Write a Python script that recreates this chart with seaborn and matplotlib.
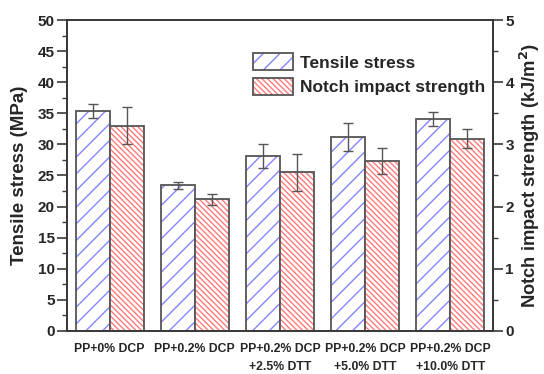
import matplotlib
matplotlib.use("Agg")
import matplotlib.pyplot as plt
from matplotlib.patches import Rectangle, Patch
from matplotlib.ticker import MultipleLocator
import seaborn as sns
import pandas as pd

# Sample names (two-line labels for the DTT blends)
samples = ["PP+0% DCP", "PP+0.2% DCP", "PP+0.2% DCP\n+2.5% DTT",
           "PP+0.2% DCP\n+5.0% DTT", "PP+0.2% DCP\n+10.0% DTT"]
series = ["Tensile stress", "Notch impact strength"]

# Tensile stress, MPa (left axis)
tensile = [35.4, 23.4, 28.1, 31.2, 34.1]
tensile_err = [1.15, 0.6, 1.9, 2.2, 1.1]

# Notched impact strength, kJ/m^2 (right axis)
impact = [3.30, 2.12, 2.55, 2.73, 3.09]
impact_err = [0.30, 0.09, 0.30, 0.21, 0.15]

sns.set_style("ticks")
plt.rcParams["font.family"] = ["Liberation Sans", "DejaVu Sans"]
plt.rcParams["font.weight"] = "bold"
plt.rcParams["hatch.linewidth"] = 1.0

EDGE = "#555555"
AXC = "#3a3a3a"
BLUE = "#8484ff"
RED = "#ff7a7a"
HATCH_T = "//"
HATCH_I = "\\\\\\\\\\\\"

df_t = pd.DataFrame({"sample": samples, "value": tensile, "series": series[0]})
df_i = pd.DataFrame({"sample": samples, "value": impact, "series": series[1]})

fig = plt.figure(figsize=(5.44, 3.74), dpi=100)
ax = fig.add_axes([0.1232, 0.115, 0.7830, 0.8315])
ax2 = ax.twinx()

pal = {series[0]: "white", series[1]: "white"}
sns.barplot(data=df_t, x="sample", y="value", hue="series", hue_order=series,
            order=samples, palette=pal, width=0.8, dodge=True, errorbar=None,
            legend=False, ax=ax)
sns.barplot(data=df_i, x="sample", y="value", hue="series", hue_order=series,
            order=samples, palette=pal, width=0.8, dodge=True, errorbar=None,
            legend=False, ax=ax2)


def style_bars(axis, hatch, hcolor, errs):
    bars = list(axis.patches)
    xs, ys = [], []
    for p in bars:
        p.set_hatch(hatch)
        p.set_edgecolor(hcolor)
        p.set_linewidth(0)
        axis.add_patch(Rectangle(p.get_xy(), p.get_width(), p.get_height(),
                                 fill=False, edgecolor=EDGE, linewidth=1.3,
                                 zorder=p.get_zorder() + 0.1))
        xs.append(p.get_x() + p.get_width() / 2)
        ys.append(p.get_height())
    axis.errorbar(xs, ys, yerr=errs, fmt="none", ecolor=EDGE, elinewidth=1.0,
                  capsize=3.5, capthick=1.0, zorder=5)


style_bars(ax, HATCH_T, BLUE, tensile_err)
style_bars(ax2, HATCH_I, RED, impact_err)

ax.set_xlim(-0.5, 4.5)
ax.set_ylim(0, 50)
ax2.set_ylim(0, 5)
ax.yaxis.set_major_locator(MultipleLocator(5))
ax.yaxis.set_minor_locator(MultipleLocator(2.5))
ax2.yaxis.set_major_locator(MultipleLocator(1))
ax2.yaxis.set_minor_locator(MultipleLocator(0.5))

for a in (ax, ax2):
    for s in a.spines.values():
        s.set_visible(True)
        s.set_color(AXC)
        s.set_linewidth(1.3)

ax.tick_params(axis="y", which="major", direction="out", length=7, width=1.2,
               labelsize=11, color=AXC, pad=2, right=False)
ax.tick_params(axis="y", which="minor", direction="out", length=3.5, width=1.0,
               color=AXC, right=False)
ax.tick_params(axis="x", length=0, labelsize=8.8, pad=9)
ax2.tick_params(axis="y", which="major", direction="out", length=7, width=1.2,
                labelsize=11, color=AXC, pad=2)
ax2.tick_params(axis="y", which="minor", direction="out", length=3.5, width=1.0,
                color=AXC)
ax2.tick_params(axis="x", length=0)

for lab in ax.get_xticklabels():
    lab.set_linespacing(1.65)
    lab.set_verticalalignment("top")
    lab.set_fontweight("bold")
for lab in ax.get_yticklabels() + ax2.get_yticklabels():
    lab.set_fontweight("bold")

ax.set_xlabel("")
ax2.set_xlabel("")
ax.set_ylabel("Tensile stress (MPa)", fontsize=13.5, fontweight="bold", labelpad=7)
ax2.set_ylabel("Notch impact strength (kJ/m$^\\mathbf{2}$)", fontsize=13.2,
               fontweight="bold", labelpad=3)

handles = [
    (Patch(facecolor="white", edgecolor=BLUE, hatch=HATCH_T, linewidth=0),
     Patch(facecolor="none", edgecolor=EDGE, linewidth=1.3)),
    (Patch(facecolor="white", edgecolor=RED, hatch=HATCH_I, linewidth=0),
     Patch(facecolor="none", edgecolor=EDGE, linewidth=1.3)),
]
ax2.legend(handles, series, loc="upper left", bbox_to_anchor=(0.465, 0.858),
           bbox_transform=fig.transFigure, frameon=False,
           handlelength=2.3, handleheight=1.15, labelspacing=0.42,
           handletextpad=0.4, borderpad=0, borderaxespad=0,
           prop={"weight": "bold", "size": 12.5})

fig.savefig("out.png", dpi=100)
